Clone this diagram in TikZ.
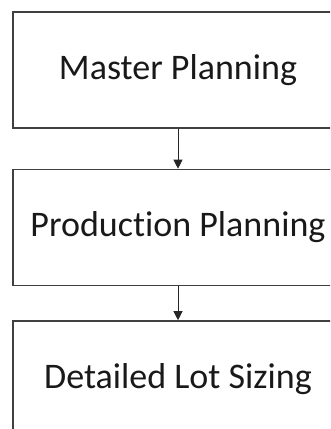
\documentclass[tikz,border=0pt]{standalone}
\usepackage{fontspec}
\setmainfont{Carlito}[Ligatures=NoCommon]
\usetikzlibrary{arrows.meta}
\begin{document}
\begin{tikzpicture}[x=1pt,y=1pt,
  stage/.style={draw=black!75, line width=1.6pt, minimum width=330pt, minimum height=116pt,
    inner sep=0pt, font=\fontsize{36}{43}\selectfont, text=black!90},
  flow/.style={draw=black!85, line width=0.8pt, -{Triangle[width=9pt,length=9pt]}}]
\useasboundingbox (0,0) rectangle (330,-429);
\clip (0,0) rectangle (330,-429);
\node[stage] (master) at (178,-70) {Master Planning};
\node[stage] (prod) at (178,-227.5) {Production Planning};
\node[stage] (lot) at (178,-379) {Detailed Lot Sizing};
\draw[flow] (master) -- (prod);
\draw[flow] (prod) -- (lot);
\end{tikzpicture}
\end{document}
